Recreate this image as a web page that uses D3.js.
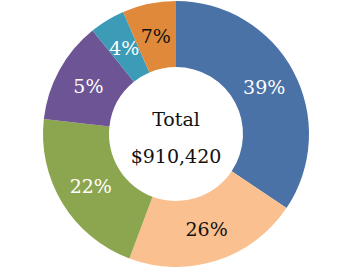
<!DOCTYPE html>
<html><head><meta charset="utf-8">
<script src="https://cdn.jsdelivr.net/npm/d3@7"></script>
<style>body{margin:0;background:#fff}svg{display:block}</style>
</head><body>
<svg id="c" width="362" height="268"></svg>
<script>
const categories = ["A","B","C","D","E","F"];
const values = [313184, 193919, 192099, 112892, 39148, 59177];
const labels = ["39%","26%","22%","5%","4%","7%"];
const colors = ["#4a72a6","#fbc08f","#8ca64f","#6c5495","#3c9bb7","#e0893a"];
const labelColors = ["#fff","#111","#fff","#fff","#fff","#111"];
const centerTitle = "Total";
const centerValue = "$910,420";

const svg = d3.select("#c");
const cx = 176, cy = 134, R = 133, r = 67;
const g = svg.append("g").attr("transform", `translate(${cx},${cy})`);
const pie = d3.pie().sort(null).value(d => d)(values);
const arc = d3.arc().innerRadius(r).outerRadius(R);
const labelArc = d3.arc().innerRadius(100).outerRadius(100);
g.selectAll("path").data(pie).join("path")
  .attr("d", arc).attr("fill", (d,i) => colors[i]);
g.selectAll("text.l").data(pie).join("text").attr("class","l")
  .attr("x", d => labelArc.centroid(d)[0])
  .attr("y", d => labelArc.centroid(d)[1] + 7)
  .attr("text-anchor","middle")
  .attr("font-family","DejaVu Serif")
  .attr("font-size",19)
  .attr("fill",(d,i)=>labelColors[i])
  .text((d,i)=>labels[i]);
g.append("text").attr("x",0).attr("y",-8).attr("text-anchor","middle")
  .attr("font-family","DejaVu Serif").attr("font-size",19).attr("fill","#111").text(centerTitle);
g.append("text").attr("x",0).attr("y",29).attr("text-anchor","middle")
  .attr("font-family","DejaVu Serif").attr("font-size",19).attr("fill","#111").text(centerValue);
</script>
</body></html>
